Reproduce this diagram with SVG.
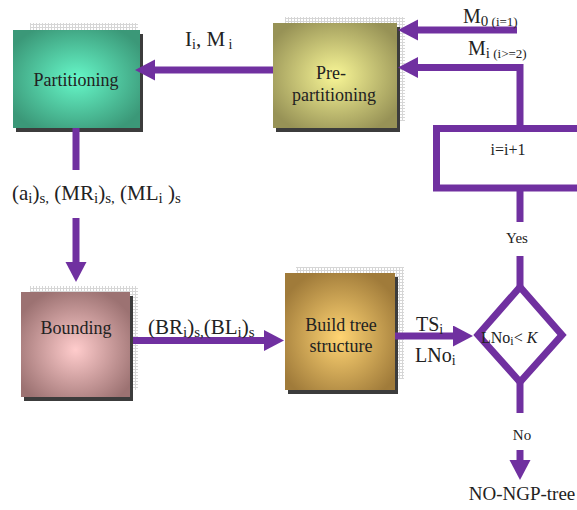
<svg xmlns="http://www.w3.org/2000/svg" width="577" height="510" viewBox="0 0 577 510">
<style>
  .conn { fill: none; stroke: #7030a0; stroke-width: 7; stroke-linejoin: miter; }
  .arrow { marker-end: url(#ah); }
  .shadow { fill: #3c3c3c; }
  .grid { fill: url(#gridpat); }
  .box { stroke: none; }
  .boxtxt { font-family: 'Liberation Serif', 'DejaVu Serif', serif; font-size: 18px; fill: #222; text-anchor: middle; }
  .lbl { font-family: 'Liberation Serif', 'DejaVu Serif', serif; fill: #222; }
</style>
<defs>
  <marker id="ah" markerUnits="userSpaceOnUse" markerWidth="20" markerHeight="22" refX="4" refY="10.5" orient="auto">
    <path d="M0,0 L20,10.5 L0,21 Z" fill="#7030a0"/>
  </marker>
  <pattern id="gridpat" width="3" height="3" patternUnits="userSpaceOnUse">
    <rect width="3" height="3" fill="#ffffff"/>
    <path d="M0,0.5 H3 M0.5,0 V3" stroke="#d6d6d6" stroke-width="1"/>
  </pattern>
  <radialGradient id="gPart" cx="0.5" cy="0.5" r="0.6">
    <stop offset="0" stop-color="#66f7c8"/>
    <stop offset="1" stop-color="#3b9878"/>
  </radialGradient>
  <radialGradient id="gPre" cx="0.5" cy="0.5" r="0.6">
    <stop offset="0" stop-color="#f8f696"/>
    <stop offset="1" stop-color="#979256"/>
  </radialGradient>
  <radialGradient id="gBound" cx="0.5" cy="0.55" r="0.6">
    <stop offset="0" stop-color="#ffcccc"/>
    <stop offset="1" stop-color="#9c7272"/>
  </radialGradient>
  <radialGradient id="gBuild" cx="0.5" cy="0.55" r="0.6">
    <stop offset="0" stop-color="#ffd473"/>
    <stop offset="1" stop-color="#a07b3a"/>
  </radialGradient>
</defs>
<rect width="577" height="510" fill="#ffffff"/>

<g id="partitioning">
  <rect class="grid" x="30" y="23" width="108" height="8"/>
  <rect class="shadow" x="16" y="34" width="127" height="98"/>
  <rect class="box" x="13" y="30" width="127" height="98" fill="url(#gPart)"/>
  <text class="boxtxt" x="76" y="86" font-family="Liberation Serif, DejaVu Serif, serif">Partitioning</text>
</g>

<g id="pre-partitioning">
  <rect class="grid" x="285" y="17" width="120" height="104"/>
  <rect class="shadow" x="276" y="27" width="124" height="105"/>
  <rect class="box" x="273" y="23" width="124" height="105" fill="url(#gPre)"/>
  <text class="boxtxt" x="331" y="79" font-family="Liberation Serif, DejaVu Serif, serif">Pre-</text>
  <text class="boxtxt" x="334" y="101" font-family="Liberation Serif, DejaVu Serif, serif">partitioning</text>
</g>

<g id="bounding">
  <rect class="grid" x="30" y="286" width="108" height="104"/>
  <rect class="shadow" x="24" y="296" width="109" height="105"/>
  <rect class="box" x="21" y="292" width="109" height="105" fill="url(#gBound)"/>
  <text class="boxtxt" x="76" y="334" font-family="Liberation Serif, DejaVu Serif, serif">Bounding</text>
</g>

<g id="build-tree">
  <rect class="grid" x="296" y="267" width="108" height="112"/>
  <rect class="shadow" x="288" y="277" width="110" height="117"/>
  <rect class="box" x="285" y="273" width="110" height="117" fill="url(#gBuild)"/>
  <text class="boxtxt" x="341" y="331" font-family="Liberation Serif, DejaVu Serif, serif">Build tree</text>
  <text class="boxtxt" x="341" y="352" font-family="Liberation Serif, DejaVu Serif, serif">structure</text>
</g>

<g id="increment">
  <rect class="conn" x="436.5" y="128.5" width="160" height="59.5"/>
  <text class="lbl" x="508" y="155" font-size="16" text-anchor="middle" font-family="Liberation Serif, DejaVu Serif, serif">i=i+1</text>
</g>

<g id="decision">
  <polygon class="conn" points="520,287 562,335 520,382 478,335"/>
  <text class="lbl" x="481" y="343" font-size="16" font-family="Liberation Serif, DejaVu Serif, serif">LNo<tspan font-size="12" dy="2">i</tspan><tspan dy="-2">&lt; </tspan><tspan font-style="italic">K</tspan></text>
</g>

<g id="connectors">
  <path class="conn arrow" d="M273,70 H151"/>
  <path class="conn arrow" d="M517,30 H414"/>
  <path class="conn arrow" d="M520,128 V67.5 H414"/>
  <path class="conn" d="M76,128 V170"/>
  <path class="conn arrow" d="M76,218 V266"/>
  <path class="conn arrow" d="M133,340.5 H268"/>
  <path class="conn arrow" d="M395,336 H457"/>
  <path class="conn" d="M520,188 V222"/>
  <path class="conn" d="M520,256 V287"/>
  <path class="conn" d="M520,382 V413"/>
  <path class="conn arrow" d="M520,450 V464"/>
</g>

<g id="labels" font-family="Liberation Serif, DejaVu Serif, serif">
  <text class="lbl" x="185" y="46" font-size="21" font-family="Liberation Serif, DejaVu Serif, serif">I<tspan font-size="14" dy="3">i</tspan><tspan dy="-3">, M</tspan><tspan font-size="14" dy="3"> i</tspan></text>
  <text class="lbl" x="463" y="23" font-size="20" font-family="Liberation Serif, DejaVu Serif, serif">M<tspan font-size="15" dy="3">0</tspan><tspan font-size="13"> (i=1)</tspan></text>
  <text class="lbl" x="468" y="55" font-size="20" font-family="Liberation Serif, DejaVu Serif, serif">M<tspan font-size="15" dy="3">i</tspan><tspan font-size="13"> (i&gt;=2)</tspan></text>
  <text class="lbl" x="12" y="200" font-size="21" font-family="Liberation Serif, DejaVu Serif, serif">(a<tspan font-size="15" dy="3">i</tspan><tspan dy="-3">)</tspan><tspan font-size="15" dy="3">s,</tspan><tspan dy="-3"> (MR</tspan><tspan font-size="15" dy="3">i</tspan><tspan dy="-3">)</tspan><tspan font-size="15" dy="3">s,</tspan><tspan dy="-3"> (ML</tspan><tspan font-size="15" dy="3">i</tspan><tspan dy="-3"> )</tspan><tspan font-size="15" dy="3">s</tspan></text>
  <text class="lbl" x="148" y="334" font-size="21" font-family="Liberation Serif, DejaVu Serif, serif">(BR<tspan font-size="15" dy="3">i</tspan><tspan dy="-3">)</tspan><tspan font-size="15" dy="3">s,</tspan><tspan dy="-3">(BL</tspan><tspan font-size="15" dy="3">i</tspan><tspan dy="-3">)</tspan><tspan font-size="15" dy="3">s</tspan></text>
  <text class="lbl" x="416" y="331" font-size="20" font-family="Liberation Serif, DejaVu Serif, serif">TS<tspan font-size="14" dy="3">i</tspan></text>
  <text class="lbl" x="415" y="362" font-size="20" font-family="Liberation Serif, DejaVu Serif, serif">LNo<tspan font-size="14" dy="3">i</tspan></text>
  <text class="lbl" x="517" y="243" font-size="15" text-anchor="middle" font-family="Liberation Serif, DejaVu Serif, serif">Yes</text>
  <text class="lbl" x="522" y="440" font-size="15" text-anchor="middle" font-family="Liberation Serif, DejaVu Serif, serif">No</text>
  <text class="lbl" x="522" y="500" font-size="19" text-anchor="middle" font-family="Liberation Serif, DejaVu Serif, serif">NO-NGP-tree</text>
</g>
</svg>
